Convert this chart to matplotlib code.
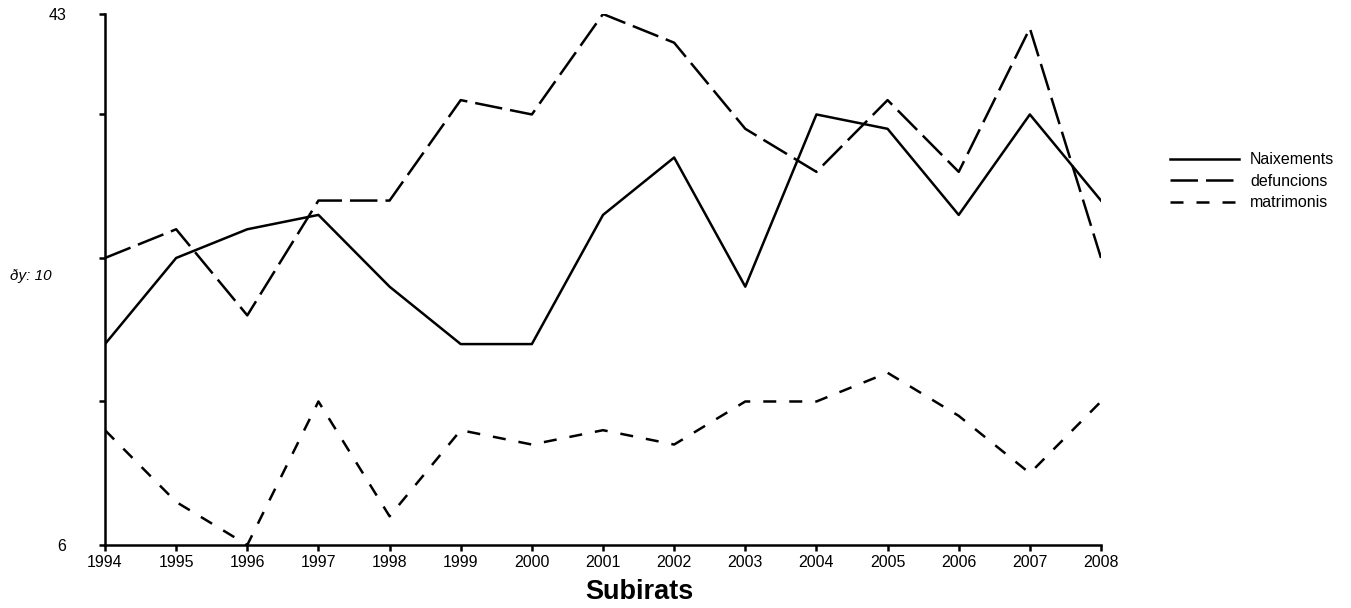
#!/usr/bin/env python3
from matplotlib import pyplot as plt

years = list(range(1994, 2009))
naixements = [20, 26, 28, 29, 24, 20, 20, 29, 33, 24, 36, 35, 29, 36, 30]
defuncions = [26, 28, 22, 30, 30, 37, 36, 43, 41, 35, 32, 37, 32, 42, 26]
matrimonis = [14, 9, 6, 16, 8, 14, 13, 14, 13, 16, 16, 18, 15, 11, 16]

y_ticks = [6, 16, 26, 36, 43]
y_labels = ['6', '', '', '', '43']

plt.rcParams['font.family'] = ['Liberation Sans', 'DejaVu Sans']

fig = plt.figure(figsize=(13.51, 6.08), dpi=100)
ax = fig.add_axes([105 / 1351, 63 / 608, 996 / 1351, 531 / 608])

lw = 1.8
ax.plot(years, naixements, color='k', lw=lw, label='Naixements')
ax.plot(years, defuncions, color='k', lw=lw, dashes=(11, 3.2), label='defuncions')
ax.plot(years, matrimonis, color='k', lw=lw, dashes=(5.2, 5.2), label='matrimonis')

ax.set_xlim(1994, 2008)
ax.set_ylim(6, 43)
ax.set_xticks(years)
ax.set_yticks(y_ticks)
ax.set_yticklabels(y_labels)

for side in ['top', 'right']:
    ax.spines[side].set_visible(False)
for side in ['left', 'bottom']:
    ax.spines[side].set_linewidth(1.8)
    ax.spines[side].set_capstyle('projecting')

ax.tick_params(axis='x', length=4, width=1.8, pad=3, labelsize=11.5)
ax.tick_params(axis='y', length=4, width=1.8, pad=24, labelsize=11.5)

fig.text(639 / 1351, 1 - 592 / 608, 'Subirats', ha='center', va='center',
         fontsize=19.5, fontweight='bold')
fig.text(10 / 1351, 1 - 276 / 608, 'ðy: 10', ha='left', va='center',
         fontsize=11, style='italic')

fig.legend(loc='upper left', bbox_to_anchor=(1156 / 1351, 1 - 138 / 608),
           frameon=False, fontsize=11.5, handlelength=4.3,
           handletextpad=0.7, labelspacing=0.4)

fig.savefig('out.png', dpi=100)
